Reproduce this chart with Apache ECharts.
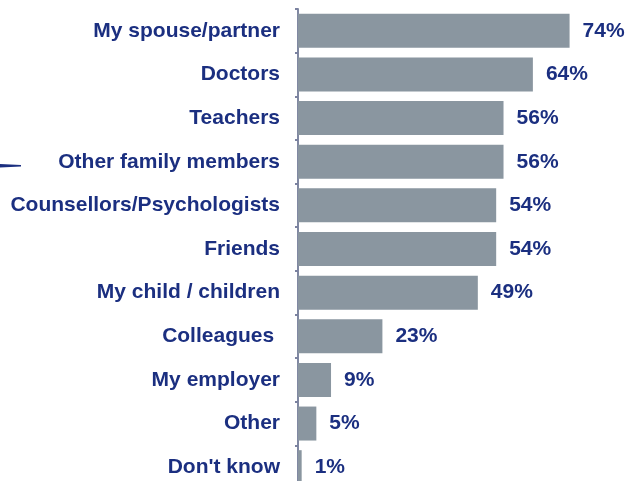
<!DOCTYPE html>
<html>
<head>
<meta charset="utf-8">
<script src="https://cdn.jsdelivr.net/npm/echarts@6/dist/echarts.min.js"></script>
<style>
  html, body { margin: 0; padding: 0; background: #ffffff; overflow: hidden; }
  #wrap { width: 634px; height: 481px; overflow: hidden; }
  /* The plot runs slightly past the visible frame on the right and bottom */
  #chart { width: 700px; height: 500px; }
</style>
</head>
<body>
<div id="wrap"><div id="chart"></div></div>
<script>
// Who people would talk to (share of respondents, %)
const categories = [
  'My spouse/partner',
  'Doctors',
  'Teachers',
  'Other family members',
  'Counsellors/Psychologists',
  'Friends',
  'My child / children',
  'Colleagues ',
  'My employer',
  'Other',
  "Don't know"
];
const values = [74, 64, 56, 56, 54, 54, 49, 23, 9, 5, 1];

const navy = '#1b2f80';
const barGrey = '#8a96a0';

const chart = echarts.init(document.getElementById('chart'));
chart.setOption({
  animation: false,
  grid: { left: 298, top: 9, width: 367, height: 480, containLabel: false },
  xAxis: {
    type: 'value',
    min: 0,
    max: 100,
    show: false
  },
  yAxis: {
    type: 'category',
    inverse: true,
    data: categories,
    axisLine: { show: true, lineStyle: { color: '#8088a2', width: 2 } },
    axisTick: { show: true, length: 3, lineStyle: { color: '#7b82a0', width: 2 } },
    axisLabel: {
      margin: 18,
      color: navy,
      fontFamily: 'Liberation Sans, Arial, sans-serif',
      fontWeight: 'bold',
      fontSize: 21
    }
  },
  series: [{
    type: 'bar',
    data: values,
    barWidth: 34,
    itemStyle: { color: barGrey },
    label: {
      show: true,
      position: 'right',
      distance: 13,
      formatter: '{c}%',
      color: navy,
      fontFamily: 'Liberation Sans, Arial, sans-serif',
      fontWeight: 'bold',
      fontSize: 21
    }
  }],
  graphic: [{
    type: 'polygon',
    shape: { points: [[0, 164], [21, 165], [21, 166.5], [0, 167.5]] },
    style: { fill: navy }
  }]
});
</script>
</body>
</html>
